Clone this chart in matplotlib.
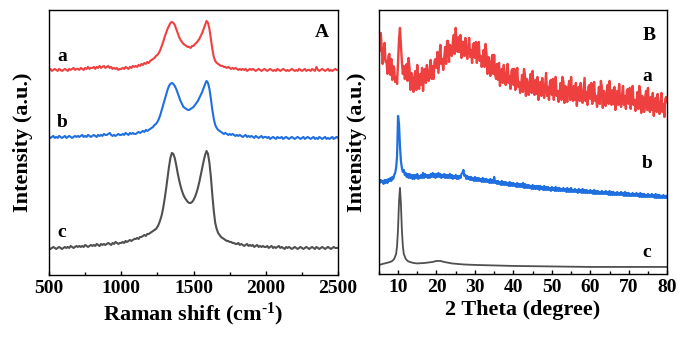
import numpy as np
import matplotlib
matplotlib.use("Agg")
import matplotlib.pyplot as plt
from matplotlib.ticker import MultipleLocator

plt.rcParams['font.family'] = ['Liberation Serif', 'DejaVu Serif']
plt.rcParams['font.weight'] = 'bold'
plt.rcParams['mathtext.fontset'] = 'custom'
plt.rcParams['mathtext.rm'] = 'Liberation Serif:bold'
plt.rcParams['mathtext.it'] = 'Liberation Serif:bold'
plt.rcParams['mathtext.bf'] = 'Liberation Serif:bold'

# ---------------- Panel A: Raman (500-2500 cm-1, step 10) ----------------
raman_shift = np.arange(500, 2501, 10)
raman_a = [
    205, 206, 204, 205, 206, 205, 204, 206, 205, 204,
    205, 206, 205, 204, 206, 205, 206, 207, 205, 206,
    206, 205, 207, 206, 205, 207, 206, 208, 206, 207,
    207, 208, 206, 208, 207, 209, 207, 208, 209, 207,
    208, 209, 207, 208, 206, 207, 206, 207, 205, 206,
    206, 207, 206, 208, 207, 206, 208, 207, 209, 208,
    209, 208, 210, 209, 211, 210, 212, 211, 213, 212,
    214, 215, 216, 217, 219, 220, 222, 225, 229, 233,
    238, 242, 246, 249, 252, 253, 252, 250, 246, 242,
    238, 235, 233, 231, 230, 229, 228, 228, 227, 229,
    229, 231, 232, 234, 236, 239, 242, 246, 250, 254,
    252, 246, 236, 226, 218, 214, 212, 211, 210, 209,
    209, 208, 208, 207, 208, 207, 206, 207, 206, 207,
    206, 205, 206, 205, 206, 205, 206, 204, 205, 206,
    205, 206, 205, 204, 205, 206, 205, 204, 205, 206,
    205, 204, 205, 206, 205, 204, 205, 204, 206, 205,
    204, 205, 206, 205, 204, 205, 204, 205, 206, 205,
    204, 205, 204, 206, 205, 204, 205, 206, 204, 205,
    205, 204, 206, 205, 204, 208, 205, 204, 205, 206,
    205, 204, 205, 206, 204, 205, 204, 205, 206, 205,
    205]
raman_b = [
    138, 137, 138, 139, 137, 138, 137, 139, 138, 137,
    138, 139, 137, 138, 139, 138, 137, 138, 139, 138,
    139, 138, 139, 140, 138, 139, 138, 140, 139, 138,
    139, 140, 139, 138, 140, 139, 140, 139, 141, 140,
    140, 141, 142, 140, 139, 140, 139, 140, 141, 140,
    140, 141, 140, 142, 141, 140, 142, 141, 142, 141,
    141, 142, 143, 142, 143, 144, 143, 145, 144, 145,
    146, 147, 148, 150, 151, 153, 156, 160, 165, 170,
    175, 180, 185, 189, 191, 192, 191, 189, 186, 182,
    178, 174, 171, 168, 167, 166, 165, 165, 166, 167,
    168, 170, 172, 174, 177, 180, 183, 187, 191, 194,
    192, 186, 176, 165, 156, 150, 147, 145, 144, 143,
    142, 141, 142, 141, 140, 141, 140, 141, 140, 139,
    140, 139, 140, 139, 138, 139, 140, 138, 139, 138,
    139, 138, 137, 139, 138, 137, 138, 139, 137, 138,
    138, 137, 138, 136, 137, 138, 137, 136, 138, 137,
    137, 138, 136, 137, 138, 137, 136, 137, 138, 137,
    136, 137, 138, 137, 136, 137, 138, 136, 137, 138,
    137, 136, 137, 138, 136, 137, 136, 138, 137, 136,
    137, 138, 136, 137, 136, 137, 138, 136, 137, 138,
    137]
raman_c = [
    27, 26, 27, 28, 27, 26, 27, 28, 27, 26,
    27, 28, 27, 28, 27, 29, 28, 27, 28, 29,
    28, 29, 28, 29, 28, 30, 29, 28, 29, 30,
    29, 30, 29, 31, 30, 29, 31, 30, 31, 30,
    31, 32, 31, 30, 32, 31, 33, 32, 31, 32,
    32, 33, 32, 34, 33, 34, 35, 34, 35, 36,
    36, 37, 36, 38, 38, 39, 40, 39, 41, 41,
    42, 43, 44, 45, 46, 48, 51, 55, 60, 67,
    76, 86, 97, 108, 117, 122, 121, 117, 110, 102,
    95, 89, 84, 80, 77, 75, 73, 72, 72, 73,
    75, 78, 82, 87, 93, 100, 107, 114, 120, 124,
    121, 112, 98, 80, 64, 52, 46, 42, 40, 38,
    37, 36, 35, 34, 34, 33, 33, 32, 32, 31,
    31, 32, 30, 31, 30, 29, 30, 31, 29, 30,
    29, 30, 28, 29, 30, 28, 29, 28, 29, 28,
    28, 29, 27, 28, 29, 27, 28, 27, 28, 29,
    27, 28, 27, 26, 28, 27, 28, 27, 26, 27,
    28, 27, 26, 27, 28, 27, 26, 27, 28, 27,
    26, 27, 28, 27, 26, 28, 27, 26, 27, 28,
    27, 26, 27, 28, 27, 26, 27, 28, 27, 27,
    27]

# ---------------- Panel B: XRD (5-80 deg, step 0.25) ----------------
two_theta = np.arange(5, 80.001, 0.25)
xrd_a = [
    237, 223, 241, 227, 210, 222, 231, 212, 213, 200, 218, 220,
    199, 215, 194, 208, 205, 192, 197, 190, 212, 234, 246, 228,
    212, 200, 208, 195, 199, 210, 193, 216, 205, 184, 201, 194,
    182, 196, 203, 184, 209, 189, 185, 200, 189, 206, 183, 199,
    205, 191, 209, 195, 193, 205, 214, 195, 208, 195, 213, 215,
    206, 222, 201, 215, 229, 210, 215, 204, 216, 227, 210, 233,
    233, 212, 229, 222, 218, 232, 239, 220, 246, 226, 222, 237,
    222, 239, 216, 232, 232, 218, 236, 222, 215, 227, 236, 217,
    224, 211, 229, 231, 216, 232, 211, 225, 232, 213, 218, 207,
    213, 224, 207, 230, 221, 200, 217, 210, 198, 212, 219, 200,
    219, 199, 195, 210, 194, 211, 188, 204, 205, 191, 209, 195,
    189, 201, 210, 191, 198, 185, 203, 205, 189, 205, 184, 198,
    206, 187, 192, 181, 188, 199, 182, 205, 199, 178, 195, 188,
    179, 193, 200, 181, 203, 183, 179, 194, 180, 197, 174, 190,
    192, 178, 196, 182, 176, 188, 201, 178, 187, 174, 192, 194,
    179, 195, 174, 188, 197, 178, 183, 172, 180, 191, 174, 197,
    192, 171, 188, 181, 172, 186, 193, 174, 197, 177, 173, 188,
    174, 191, 168, 184, 187, 173, 191, 177, 171, 183, 196, 173,
    182, 169, 187, 189, 175, 191, 170, 184, 192, 173, 178, 167,
    176, 187, 170, 193, 187, 166, 183, 176, 168, 182, 189, 170,
    193, 173, 169, 184, 170, 187, 164, 180, 183, 169, 190, 173,
    167, 179, 188, 169, 178, 165, 183, 185, 170, 186, 165, 179,
    188, 169, 174, 163, 171, 182, 165, 188, 182, 161, 178, 171,
    162, 176, 183, 164, 186, 166, 162, 177, 164, 181, 158, 174,
    176, 162, 180, 166, 160, 172, 181, 162, 170, 157, 175, 177,
    172]
xrd_b = [
    95, 91, 94, 92, 93, 90, 94, 91, 94, 91, 95, 93,
    96, 93, 97, 95, 99, 101, 106, 118, 158, 150, 128, 113,
    106, 102, 104, 99, 101, 97, 100, 96, 100, 96, 99, 95,
    99, 95, 99, 96, 100, 95, 98, 96, 99, 96, 101, 96,
    100, 97, 99, 96, 99, 96, 100, 97, 101, 97, 100, 96,
    100, 97, 101, 97, 100, 96, 99, 97, 100, 96, 99, 96,
    99, 96, 100, 96, 99, 95, 98, 96, 99, 95, 98, 95,
    98, 96, 100, 101, 104, 98, 99, 95, 98, 95, 97, 94,
    97, 94, 96, 93, 97, 93, 96, 93, 96, 93, 95, 92,
    96, 92, 95, 92, 95, 92, 94, 91, 95, 91, 94, 91,
    97, 91, 93, 90, 93, 90, 92, 89, 93, 89, 92, 89,
    92, 89, 91, 88, 92, 88, 91, 88, 91, 88, 90, 87,
    91, 87, 90, 87, 90, 87, 91, 86, 90, 86, 89, 86,
    89, 86, 88, 85, 89, 85, 88, 85, 88, 85, 88, 84,
    88, 85, 87, 84, 88, 84, 87, 84, 87, 84, 86, 83,
    87, 84, 86, 83, 87, 83, 86, 83, 86, 83, 85, 83,
    86, 83, 85, 82, 86, 82, 85, 82, 86, 82, 84, 82,
    85, 82, 84, 81, 85, 82, 84, 81, 85, 81, 84, 81,
    84, 81, 83, 81, 84, 81, 83, 80, 84, 80, 83, 80,
    83, 80, 82, 80, 83, 80, 82, 80, 83, 80, 82, 79,
    83, 79, 82, 79, 82, 79, 81, 79, 82, 79, 81, 79,
    82, 79, 81, 78, 82, 78, 81, 78, 81, 78, 80, 78,
    81, 78, 80, 78, 81, 78, 80, 77, 81, 77, 80, 77,
    80, 77, 79, 77, 80, 77, 79, 77, 80, 77, 79, 76,
    80, 76, 79, 76, 79, 76, 78, 76, 79, 76, 78, 76,
    78]
xrd_c_theta = [5, 6, 7, 8, 8.5, 9, 9.5, 9.75, 10, 10.25, 10.5, 10.75, 11,
               11.25, 11.5, 12, 12.5, 13, 14, 15, 17, 19, 20, 21, 22, 24,
               27, 30, 35, 40, 50, 60, 70, 80]
xrd_c = [9, 10, 11, 12, 13, 15, 20, 28, 45, 72, 86, 70, 44,
         28, 20, 15, 13, 12, 11, 10.5, 11, 12, 13, 13, 12, 10.5,
         9.5, 9, 8.5, 8, 7.5, 7, 7, 7]

raman_ticks = [500, 1000, 1500, 2000, 2500]
xrd_ticks = [10, 20, 30, 40, 50, 60, 70, 80]
curve_labels = ['a', 'b', 'c']

RED = '#EF4040'
BLUE = '#1F6FE0'
GREY = '#505050'

fig = plt.figure(figsize=(6.9, 3.42), dpi=100)
axA = fig.add_axes([0.071, 0.196, 0.419, 0.775])
axB = fig.add_axes([0.549, 0.199, 0.418, 0.772])

lw = 1.5
axA.plot(raman_shift, raman_a, color=RED, lw=lw)
axA.plot(raman_shift, raman_b, color=BLUE, lw=lw)
axA.plot(raman_shift, raman_c, color=GREY, lw=lw)
axA.set_xlim(500, 2500)
axA.set_ylim(0, 265)
axA.set_xticks(raman_ticks)
axA.xaxis.set_minor_locator(MultipleLocator(250))

axB.plot(two_theta, xrd_a, color=RED, lw=1.7)
axB.plot(two_theta, xrd_b, color=BLUE, lw=1.6)
axB.plot(xrd_c_theta, xrd_c, color=GREY, lw=1.3)
axB.set_xlim(5, 80)
axB.set_ylim(0, 264)
axB.set_xticks(xrd_ticks)
axB.xaxis.set_minor_locator(MultipleLocator(5))

for ax in (axA, axB):
    ax.set_yticks([])
    ax.tick_params(axis='x', which='major', direction='in', length=3, width=1,
                   labelsize=14, pad=3.5)
    ax.tick_params(axis='x', which='minor', direction='in', length=2, width=1)
    for s in ax.spines.values():
        s.set_linewidth(1.0)
    for lab in ax.get_xticklabels():
        lab.set_fontweight('bold')

axA.set_xlabel(r'Raman shift (cm$^{\text{-}1}$)', fontsize=16, fontweight='bold', labelpad=3)
axB.set_xlabel('2 Theta (degree)', fontsize=16, fontweight='bold', labelpad=3)
axA.set_ylabel('Intensity (a.u.)', fontsize=16, fontweight='bold')
axB.set_ylabel('Intensity (a.u.)', fontsize=16, fontweight='bold')
axA.yaxis.set_label_coords(-0.055, 0.5)
axB.yaxis.set_label_coords(-0.042, 0.5)

tkw = dict(fontsize=14, fontweight='bold', ha='center', va='center')
for lab, yy in zip(curve_labels, [0.823, 0.577, 0.162]):
    axA.text(0.045, yy, lab, transform=axA.transAxes, **tkw)
for lab, yy in zip(curve_labels, [0.746, 0.417, 0.083]):
    axB.text(0.93, yy, lab, transform=axB.transAxes, **tkw)
axA.text(0.945, 0.913, 'A', transform=axA.transAxes, **tkw)
axB.text(0.9375, 0.905, 'B', transform=axB.transAxes, **tkw)

fig.savefig('out.png', dpi=100)
